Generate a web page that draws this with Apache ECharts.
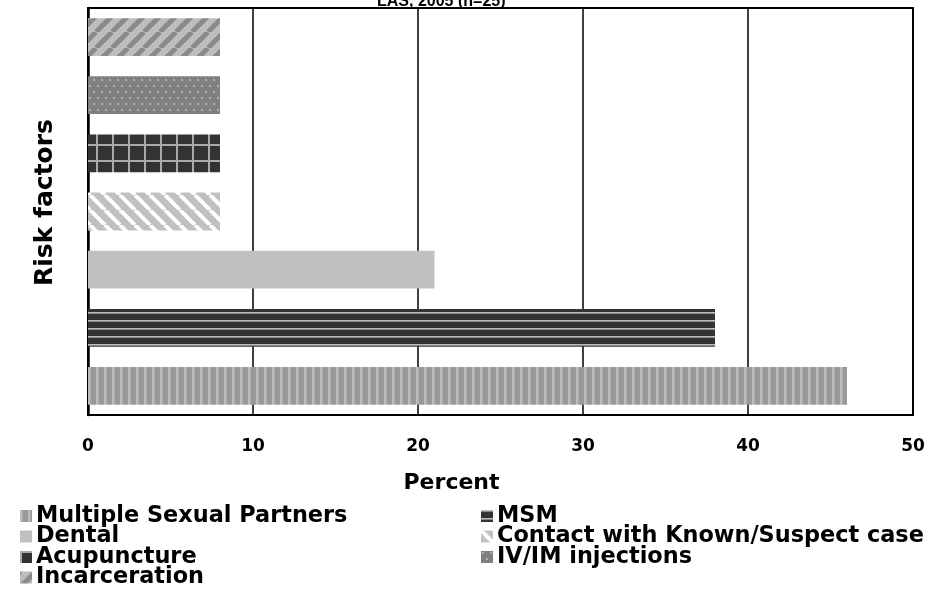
<!DOCTYPE html>
<html><head><meta charset="utf-8">
<script src="https://cdn.jsdelivr.net/npm/echarts@6/dist/echarts.min.js"></script>
<style>html,body{margin:0;padding:0;background:#fff}#c{width:931px;height:600px}</style>
</head><body><div id="c"></div>
<script>
// Data (bottom to top on the category axis)
const categories = ['Multiple Sexual Partners','MSM','Dental','Contact with Known/Suspect case','Acupuncture','IV/IM injections','Incarceration'];
const values = [46, 38, 21, 8, 8, 8, 8];
const xTicks = [0, 10, 20, 30, 40, 50];
const legendLeft = ['Multiple Sexual Partners','Dental','Acupuncture','Incarceration'];
const legendRight = ['MSM','Contact with Known/Suspect case','IV/IM injections'];

function pat(w,h,draw){const c=document.createElement('canvas');c.width=w;c.height=h;const g=c.getContext('2d');draw(g,w,h);return {image:c,repeat:'repeat'};}
function diag(bg,fg,p,lw,dir){return pat(p,p,(g)=>{g.fillStyle=bg;g.fillRect(0,0,p,p);g.strokeStyle=fg;g.lineWidth=lw;for(let k=-1;k<=1;k++){g.beginPath();if(dir>0){g.moveTo(k*p,p);g.lineTo(k*p+p,0);}else{g.moveTo(k*p,0);g.lineTo(k*p+p,p);}g.stroke();}});}
const fills = [
  pat(8,4,(g)=>{g.fillStyle='#999';g.fillRect(0,0,8,4);g.fillStyle='#bcbcbc';g.fillRect(0,0,2,4);g.fillStyle='#aaa';g.fillRect(2,0,1,4);}),
  pat(4,8,(g)=>{g.fillStyle='#333';g.fillRect(0,0,4,8);g.fillStyle='#bbb';g.fillRect(0,0,4,1);g.fillStyle='#888';g.fillRect(0,1,4,1);}),
  '#c0c0c0',
  diag('#c0c0c0','#ffffff',15,4,-1),
  pat(16,16,(g)=>{g.fillStyle='#333';g.fillRect(0,0,16,16);g.fillStyle='#aaa';g.fillRect(0,0,16,2);g.fillRect(0,0,2,16);}),
  pat(8,12,(g)=>{g.fillStyle='#808080';g.fillRect(0,0,8,12);g.fillStyle='#b0b0b0';g.fillRect(1,1,2,2);g.fillRect(5,7,2,2);}),
  diag('#bdbdbd','#8a8a8a',16,5,1)
];

const series = categories.map((name,i)=>({
  name, type:'bar', stack:'all', barWidth:'65%',
  itemStyle:{color:fills[i]},
  data: categories.map((_,j)=> j===i ? values[i] : '-')
}));

const font = '"DejaVu Sans", sans-serif';
const legText = {fontFamily:font,fontWeight:'bold',fontSize:22.4,lineHeight:20.5,color:'#000',padding:[0,0,0,-1]};
const chart = echarts.init(document.getElementById('c'), null, {renderer:'canvas'});
chart.setOption({
  animation:false,
  title:{text:'LAS, 2005 (n=25)', left:372, top:-11, textStyle:{fontFamily:'Arial, "Liberation Sans", sans-serif',fontWeight:'bold',fontSize:16,color:'#000'}},
  grid:{left:88, right:18, top:8, bottom:185, show:true, borderColor:'#000', borderWidth:2, containLabel:false},
  legend:[
    {data:legendLeft, orient:'vertical', left:15, top:500, height:100, itemWidth:12, itemHeight:12, itemGap:-1.5, icon:'rect', textStyle:legText},
    {data:legendRight, orient:'vertical', left:476, top:500, height:100, itemWidth:12, itemHeight:12, itemGap:-1.5, icon:'rect', textStyle:legText}
  ],
  xAxis:{type:'value', min:xTicks[0], max:xTicks[xTicks.length-1], interval:10,
    axisLine:{show:true,lineStyle:{color:'#000',width:2}}, axisTick:{show:false},
    splitLine:{show:true,lineStyle:{color:'#000',width:1.5}},
    axisLabel:{fontFamily:font,fontWeight:'bold',fontSize:17,color:'#000',margin:23},
    name:'Percent', nameLocation:'middle', nameGap:57,
    nameTextStyle:{fontFamily:font,fontWeight:'bold',fontSize:22,color:'#000',padding:[0,98,0,0]}},
  yAxis:{type:'category', data:categories, axisLabel:{show:false}, axisTick:{show:false},
    axisLine:{show:true,lineStyle:{color:'#000',width:2.5}},
    name:'Risk factors', nameLocation:'middle', nameGap:30, nameRotate:90,
    nameTextStyle:{fontFamily:font,fontWeight:'bold',fontSize:25,color:'#000',padding:[0,0,0,18]}},
  series
});
</script></body></html>
